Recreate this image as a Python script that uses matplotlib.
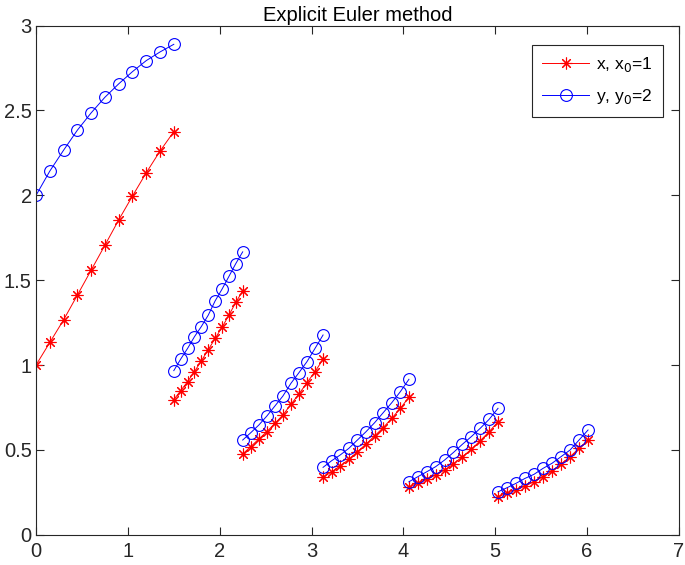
import numpy as np
import matplotlib.pyplot as plt

# segment end points on the time axis (each segment has 11 Euler steps)
t_start = [0.0, 1.5, 2.25, 3.125, 4.06, 5.03]
t_end = [1.5, 2.25, 3.125, 4.06, 5.03, 6.01]

x_vals = [
    [1.00, 1.133, 1.266, 1.412, 1.559, 1.706, 1.855, 1.996, 2.133, 2.261, 2.375],
    [0.796, 0.849, 0.902, 0.961, 1.025, 1.090, 1.157, 1.222, 1.294, 1.369, 1.437],
    [0.476, 0.519, 0.564, 0.607, 0.656, 0.705, 0.768, 0.829, 0.896, 0.961, 1.034],
    [0.338, 0.371, 0.405, 0.444, 0.489, 0.534, 0.582, 0.631, 0.686, 0.745, 0.810],
    [0.279, 0.303, 0.326, 0.352, 0.381, 0.417, 0.460, 0.503, 0.554, 0.607, 0.666],
    [0.224, 0.244, 0.263, 0.287, 0.312, 0.342, 0.375, 0.415, 0.460, 0.509, 0.558],
]
y_vals = [
    [2.00, 2.143, 2.266, 2.384, 2.486, 2.578, 2.657, 2.729, 2.794, 2.845, 2.89],
    [0.967, 1.035, 1.098, 1.167, 1.227, 1.294, 1.378, 1.447, 1.522, 1.598, 1.667],
    [0.558, 0.601, 0.646, 0.699, 0.758, 0.817, 0.892, 0.955, 1.020, 1.098, 1.177],
    [0.397, 0.436, 0.470, 0.509, 0.558, 0.607, 0.660, 0.719, 0.778, 0.843, 0.916],
    [0.312, 0.342, 0.371, 0.401, 0.440, 0.485, 0.533, 0.578, 0.627, 0.680, 0.745],
    [0.253, 0.277, 0.303, 0.332, 0.356, 0.391, 0.421, 0.460, 0.499, 0.558, 0.617],
]

x_ticks = [0, 1, 2, 3, 4, 5, 6, 7]
y_ticks = [0, 0.5, 1, 1.5, 2, 2.5, 3]
y_labels = ['0', '0.5', '1', '1.5', '2', '2.5', '3']

plt.rcParams['font.family'] = ['Liberation Sans', 'DejaVu Sans']

fig = plt.figure(figsize=(6.85, 5.65), dpi=100)
ax = fig.add_axes([0.0526, 0.0536, 0.9386, 0.901])

star = (8, 2, 0)
for i in range(len(t_start)):
    t = np.linspace(t_start[i], t_end[i], len(x_vals[i]))
    ax.plot(t, x_vals[i], color='#ff0000', lw=0.7, marker=star, ms=8.5,
            mew=0.8, label='x, x$_0$=1' if i == 0 else None)
    ax.plot(t, y_vals[i], color='#0000ff', lw=0.7, marker='o', ms=8.5,
            mfc='none', mew=0.8, label='y, y$_0$=2' if i == 0 else None)

ax.set_xlim(0, 7)
ax.set_ylim(0, 3)
ax.set_xticks(x_ticks)
ax.set_yticks(y_ticks)
ax.set_yticklabels(y_labels)
ax.tick_params(direction='in', length=6, width=0.8, colors='#262626',
               labelsize=14.5, top=True, right=True)
ax.tick_params(axis='x', pad=5)
ax.tick_params(axis='y', pad=3)
for s in ax.spines.values():
    s.set_color('#262626')
    s.set_linewidth(0.8)

ax.set_title('Explicit Euler method', fontsize=14.5, pad=3)

leg = ax.legend(loc='upper right', bbox_to_anchor=(0.975, 0.962), numpoints=1,
                borderaxespad=0, handlelength=2.7, fontsize=12.5, fancybox=False,
                edgecolor='#262626', framealpha=1, borderpad=0.6,
                labelspacing=0.75, handletextpad=0.4)
leg.get_frame().set_linewidth(0.8)

fig.savefig('out.png', dpi=100)
